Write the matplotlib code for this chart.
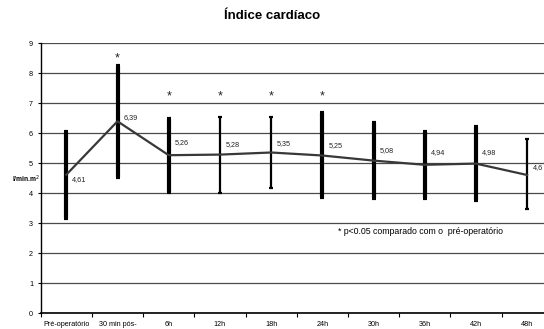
import matplotlib.pyplot as plt
import numpy as np

# data
categories = ["Pré-operatório", "30 min pós-", "6h", "12h", "18h", "24h", "30h", "36h", "42h", "48h"]
means = [4.61, 6.39, 5.26, 5.28, 5.35, 5.25, 5.08, 4.94, 4.98, 4.60]
labels = ["4,61", "6,39", "5,26", "5,28", "5,35", "5,25", "5,08", "4,94", "4,98", "4,6"]
upper = [6.04, 8.24, 6.47, 6.54, 6.54, 6.66, 6.33, 6.04, 6.20, 5.80]
lower = [3.18, 4.54, 4.03, 4.01, 4.16, 3.88, 3.84, 3.84, 3.77, 3.46]
star_y = [None, 8.55, 7.3, 7.3, 7.3, 7.3, None, None, None, None]

# styling only
bar_lw = [3, 3, 3, 1.6, 1.6, 3, 3, 3, 3, 1.6]
label_dy = [-5, 4, 13, 10, 9, 10, 10, 12, 11, 7]

plt.rcParams["font.family"] = ["Liberation Sans", "DejaVu Sans"]

fig = plt.figure(figsize=(5.44, 3.29), dpi=100)
ax = fig.add_axes([40.7 / 544, 16 / 329, 512 / 544, 270 / 329])

x = np.arange(len(categories))

for i in range(len(x)):
    ax.errorbar(x[i], means[i], yerr=[[means[i] - lower[i]], [upper[i] - means[i]]],
                fmt="none", ecolor="black", elinewidth=bar_lw[i], capsize=1.5,
                capthick=bar_lw[i], zorder=3)

ax.plot(x, means, color="#383838", lw=1.6, zorder=4)

for i in range(len(x)):
    ax.annotate(labels[i], (x[i], means[i]), xytext=(6, label_dy[i]),
                textcoords="offset pixels", fontsize=5.2, color="#222222",
                va="center", ha="left", zorder=5)
    if star_y[i] is not None:
        ax.text(x[i], star_y[i] - 0.08, "*", fontsize=9, ha="center", va="center", color="#222222")

ax.set_xlim(-0.5, len(categories) - 0.5)
ax.set_ylim(0, 9)
ax.set_yticks(range(0, 10))
ax.set_xticks(x)
ax.set_xticklabels(categories, fontsize=5.2)
ax.set_xticks(np.arange(-0.5, len(categories), 1), minor=True)
ax.tick_params(axis="x", which="major", length=0, pad=6)
ax.tick_params(axis="x", which="minor", length=3, width=0.8, direction="out")
ax.tick_params(axis="y", labelsize=5.2, length=2.5, width=0.8, pad=3)

ax.yaxis.grid(True, color="#4a4a4a", lw=0.9)
ax.set_axisbelow(True)
for s in ["top", "right"]:
    ax.spines[s].set_visible(False)
ax.spines["left"].set_linewidth(1)
ax.spines["bottom"].set_linewidth(1.2)

ax.text(-0.52, 4.45, "l/min.m$^2$", fontsize=4.8, fontweight="bold", ha="right", va="center")
ax.text(5.3, 2.7, "* p<0.05 comparado com o  pré-operatório", fontsize=6.3, ha="left", va="center")

fig.text(272 / 544, 1 - 16 / 329, "Índice cardíaco", fontsize=9.5, fontweight="bold",
         ha="center", va="center")

fig.savefig("out.png", dpi=100)
